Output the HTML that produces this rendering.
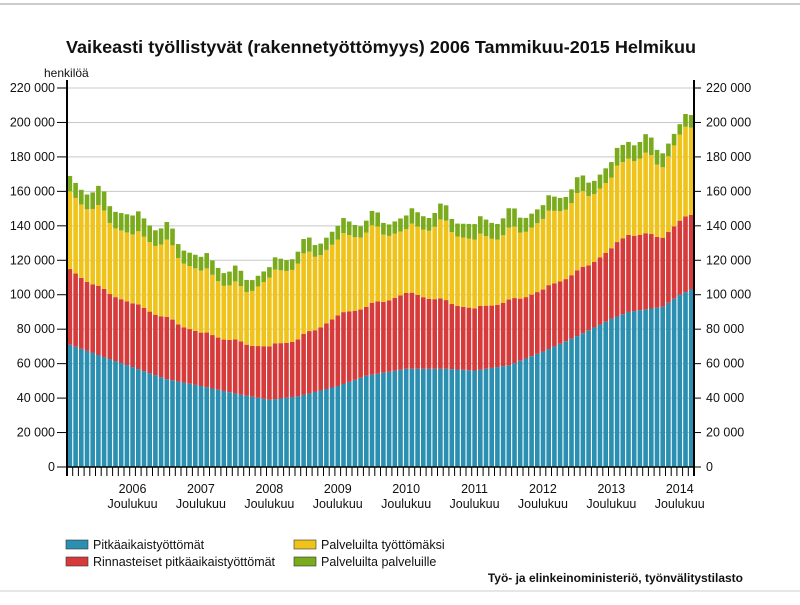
<!DOCTYPE html>
<html><head><meta charset="utf-8"><style>
body{margin:0;background:#fff;width:800px;height:600px;overflow:hidden}
text{font-family:"Liberation Sans",sans-serif;fill:#111}
</style></head><body>
<svg id="s" width="800" height="600" xmlns="http://www.w3.org/2000/svg">
<line x1="0" y1="4" x2="800" y2="4" stroke="#bbb" stroke-width="1.5"/>
<line x1="0" y1="591" x2="800" y2="591" stroke="#ddd" stroke-width="1.5"/>
<text x="381" y="53" font-size="17.5" font-weight="bold" text-anchor="middle" textLength="630" lengthAdjust="spacingAndGlyphs">Vaikeasti työllistyvät (rakennetyöttömyys) 2006 Tammikuu-2015 Helmikuu</text>
<text x="44" y="77" font-size="12">henkilöä</text>
<g id="grid"></g><g id="bars"></g><g id="axes"></g>
<rect x="66" y="540" width="22" height="9" fill="#2a8fb0" stroke="#333" stroke-width="0.6"/>
<text x="93" y="549" font-size="12.5">Pitkäaikaistyöttömät</text>
<rect x="66" y="557" width="22" height="9" fill="#d63a3a" stroke="#333" stroke-width="0.6"/>
<text x="93" y="566" font-size="12.5">Rinnasteiset pitkäaikaistyöttömät</text>
<rect x="294" y="540" width="22" height="9" fill="#f0c31a" stroke="#333" stroke-width="0.6"/>
<text x="321" y="549" font-size="12.5">Palveluilta työttömäksi</text>
<rect x="294" y="557" width="22" height="9" fill="#7aab1c" stroke="#333" stroke-width="0.6"/>
<text x="321" y="566" font-size="12.5">Palveluilta palveluille</text>
<text x="743" y="582" font-size="12" font-weight="bold" text-anchor="end">Työ- ja elinkeinoministeriö, työnvälitystilasto</text>
</svg>
<script>
const NS="http://www.w3.org/2000/svg";
function el(p,t,a,txt){const e=document.createElementNS(NS,t);for(const k in a)e.setAttribute(k,a[k]);if(txt!==undefined)e.textContent=txt;p.appendChild(e);return e;}
const X0=67,X1=694,Y0=467,K=379/220000;
const g=document.getElementById('grid'),b=document.getElementById('bars'),ax=document.getElementById('axes');
for(let v=0;v<=220000;v+=20000){const y=Y0-v*K;
 if(v>0)el(g,'line',{x1:X0,x2:X1,y1:y,y2:y,stroke:'#c8c8c8','stroke-width':1});
 const lab=v==0?'0':(v/1000)+' 000';
 el(ax,'text',{x:55,y:y+4,'font-size':12.5,'text-anchor':'end'},lab);
 el(ax,'line',{x1:57,x2:X0,y1:y,y2:y,stroke:'#000'});
 el(ax,'line',{x1:X1,x2:X1+7,y1:y,y2:y,stroke:'#000'});
 el(ax,'text',{x:706,y:y+4,'font-size':12.5},lab);}
const kp=[[0,71,114,157,165],[5,65,104,148,158],[11,58,95,135,146],[17,51,86,128,137],[23,47,78,114,122],[30,42,72,102,110],[35,39,70,110,116],[40,41,74,118,125],[47,47,88,132,140],[52,53,93,136,143],[59,57,101,138,146],[66,57,96,140,148],[71,56,92,132,141],[77,59,96,135,145],[83,67,103,144,152],[89,76,113,155,163],[95,86,127,168,177],[98,90,135,180,190],[104,93,134,177,186],[107,100,143,193,199],[109,103,146,196,203]];
function interp(i,c){for(let j=0;j<kp.length-1;j++){const a=kp[j],z=kp[j+1];if(i>=a[0]&&i<=z[0]){const t=(i-a[0])/(z[0]-a[0]);return a[c]+(z[c]-a[c])*t;}}return kp[kp.length-1][c];}
const sea=[3,1,-1,-2,0,4,3,-2,-3,-2,-1,0];
const n=110,w=(X1-X0)/n;
for(let i=0;i<n;i++){
 const s=sea[i%12];
 const bl=interp(i,1),rd=interp(i,2)+s*0.3,yl=interp(i,3)+s,tt=interp(i,4)+s*1.3;
 const x=X0+i*w+0.6,bw=w-1.1;
 const segs=[[0,bl,'#2a8fb0'],[bl,rd,'#d63a3a'],[rd,yl,'#f0c31a'],[yl,tt,'#7aab1c']];
 for(const [a,z,c] of segs){el(b,'rect',{x:x,y:Y0-z*1000*K,width:bw,height:(z-a)*1000*K,fill:c});}
 el(ax,'line',{x1:X0+i*w,x2:X0+i*w,y1:Y0,y2:Y0+9,stroke:'#000','stroke-width':1});
}
el(ax,'line',{x1:X0,x2:X0,y1:80,y2:Y0+9,stroke:'#000','stroke-width':2});
el(ax,'line',{x1:X1,x2:X1,y1:80,y2:Y0+9,stroke:'#000','stroke-width':2});
el(ax,'line',{x1:X0,x2:X1,y1:Y0,y2:Y0,stroke:'#000','stroke-width':1.5});
for(let y=0;y<9;y++){const cx=X0+(11+12*y+0.5)*w;
 el(ax,'text',{x:cx,y:493,'font-size':12.5,'text-anchor':'middle'},String(2006+y));
 el(ax,'text',{x:cx,y:508,'font-size':12.5,'text-anchor':'middle'},'Joulukuu');}
</script>
</body></html>
